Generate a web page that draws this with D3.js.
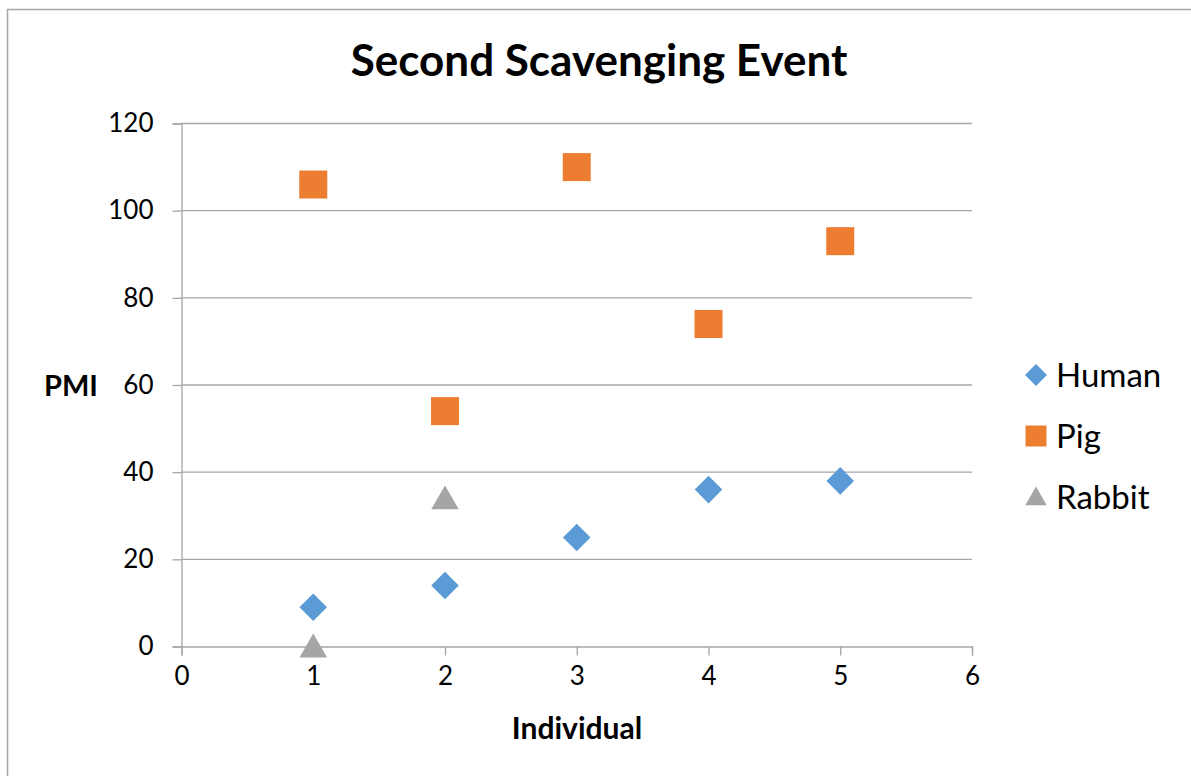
<!DOCTYPE html>
<html>
<head>
<meta charset="utf-8">
<script src="https://cdn.jsdelivr.net/npm/d3@7"></script>
<style>
  body { margin: 0; background: #fff; }
  text { font-family: Lato, "Open Sans", sans-serif; fill: #000; }
</style>
</head>
<body>
<div id="chart"></div>
<script>
const individuals = [1, 2, 3, 4, 5];
const humanPMI = [9, 14, 25, 36, 38];
const pigPMI = [106, 54, 110, 74, 93];
const rabbitIndividuals = [1, 2];
const rabbitPMI = [0, 34];
const xTicks = [0, 1, 2, 3, 4, 5, 6];
const yTicks = [0, 20, 40, 60, 80, 100, 120];

const width = 1191;
const height = 776;
const margin = { top: 123.5, right: 219, bottom: 129.5, left: 181.5 };

const svg = d3.select('#chart')
  .append('svg')
  .attr('width', width)
  .attr('height', height);

// chart border
svg.append('rect')
  .attr('x', 7.5).attr('y', 9.5)
  .attr('width', width).attr('height', height)
  .attr('fill', 'none')
  .attr('stroke', '#a6a6a6')
  .attr('stroke-width', 1.5);

const x = d3.scaleLinear()
  .domain([0, 6])
  .range([margin.left, width - margin.right]);

const y = d3.scaleLinear()
  .domain([0, 120])
  .range([height - margin.bottom, margin.top]);

// gridlines
svg.append('g')
  .selectAll('line')
  .data(yTicks.filter(d => d > 0))
  .join('line')
  .attr('x1', x(0)).attr('x2', x(6))
  .attr('y1', d => y(d)).attr('y2', d => y(d))
  .attr('stroke', '#a6a6a6')
  .attr('stroke-width', 1.3);

// y axis
const yAxis = svg.append('g')
  .attr('transform', `translate(${x(0)},0)`)
  .call(d3.axisLeft(y).tickValues(yTicks).tickFormat(d3.format('d')).tickSize(9).tickPadding(19));
yAxis.select('.domain').attr('stroke', '#a6a6a6').attr('stroke-width', 1.3);
yAxis.selectAll('.tick line').attr('stroke', '#a6a6a6').attr('stroke-width', 1.3);
yAxis.selectAll('text').attr('font-size', '26px').style('font-family', 'Lato, sans-serif').attr('fill', '#000');

// x axis
const xAxis = svg.append('g')
  .attr('transform', `translate(0,${y(0)})`)
  .call(d3.axisBottom(x).tickValues(xTicks).tickFormat(d3.format('d')).tickSize(9).tickPadding(11));
xAxis.select('.domain').attr('stroke', '#a6a6a6').attr('stroke-width', 1.3);
xAxis.selectAll('.tick line').attr('stroke', '#a6a6a6').attr('stroke-width', 1.3);
xAxis.selectAll('text').attr('font-size', '26px').style('font-family', 'Lato, sans-serif').attr('fill', '#000');

// titles
svg.append('text')
  .attr('x', 599).attr('y', 76)
  .attr('text-anchor', 'middle')
  .attr('font-size', '44px')
  .attr('font-weight', 'bold')
  .text('Second Scavenging Event');

svg.append('text')
  .attr('x', 71).attr('y', 396)
  .attr('text-anchor', 'middle')
  .attr('font-size', '29px')
  .attr('font-weight', 'bold')
  .text('PMI');

svg.append('text')
  .attr('x', 577).attr('y', 739)
  .attr('text-anchor', 'middle')
  .attr('font-size', '30px')
  .attr('font-weight', 'bold')
  .text('Individual');

const blue = '#5b9bd5', orange = '#ed7d31', grey = '#a5a5a5';
const diamond = d3.symbol().type(d3.symbolSquare).size(380);
const square = d3.symbol().type(d3.symbolSquare).size(784);
const triangle = d3.symbol().type(d3.symbolTriangle).size(330);

const series = [
  { name: 'Human', xs: individuals, ys: humanPMI, color: blue, path: diamond(), rotate: 45 },
  { name: 'Pig', xs: individuals, ys: pigPMI, color: orange, path: square(), rotate: 0 },
  { name: 'Rabbit', xs: rabbitIndividuals, ys: rabbitPMI, color: grey, path: triangle(), rotate: 0 }
];

series.forEach(s => {
  svg.append('g')
    .selectAll('path')
    .data(s.xs.map((v, i) => [v, s.ys[i]]))
    .join('path')
    .attr('d', s.path)
    .attr('fill', s.color)
    .attr('transform', d => `translate(${x(d[0])},${y(d[1]) + (s.name === 'Rabbit' ? 3 : 0)}) rotate(${s.rotate})`);
});

// legend
const legend = svg.append('g').attr('transform', 'translate(1036,375)');
const legendShapes = [
  d3.symbol().type(d3.symbolSquare).size(240)(),
  d3.symbol().type(d3.symbolSquare).size(440)(),
  d3.symbol().type(d3.symbolTriangle).size(200)()
];
series.forEach((s, i) => {
  const g = legend.append('g').attr('transform', `translate(0,${i * 61})`);
  g.append('path')
    .attr('d', legendShapes[i])
    .attr('fill', s.color)
    .attr('transform', `translate(0,${i === 2 ? 2 : 0}) rotate(${s.rotate})`);
  g.append('text')
    .attr('x', 20).attr('y', 12)
    .attr('font-size', '33px')
    .text(s.name);
});
</script>
</body>
</html>
